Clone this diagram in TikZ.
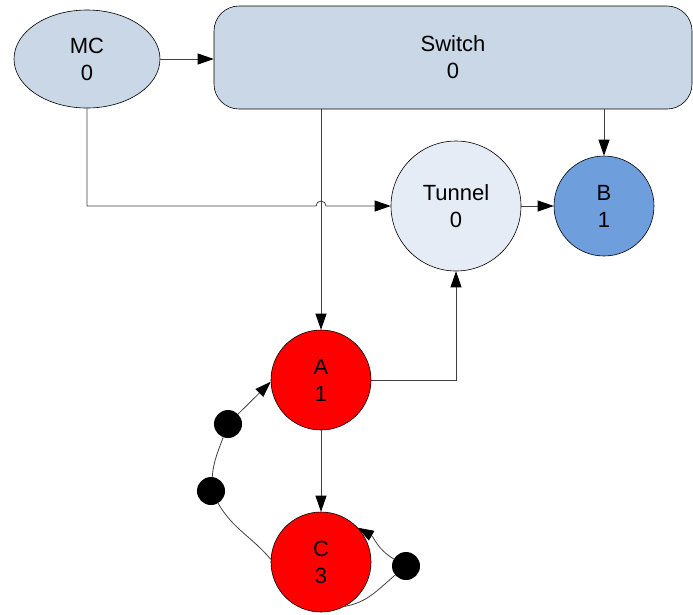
\documentclass[tikz,border=0pt]{standalone}
\usepackage{fontspec}
\setmainfont{Liberation Sans}
\usetikzlibrary{shapes.geometric,arrows.meta}

\definecolor{boxfill}{HTML}{C9D7E6}
\definecolor{tunnelfill}{HTML}{E6ECF6}
\definecolor{bfill}{HTML}{6E9EDB}

\begin{document}
\begin{tikzpicture}[x=1pt,y=1pt,
		every node/.style={font=\fontsize{22}{27}\selectfont, align=center, inner sep=0pt},
		state/.style={circle, draw=black, line width=0.6pt, minimum size=100pt},
		token/.style={circle, fill=black, minimum size=28pt},
		wire/.style={draw=black!75, line width=0.8pt},
		arr/.style={wire, -{Triangle[length=16pt,width=11pt,color=black]}}]
		\useasboundingbox (0,0) rectangle (693,-614);
		% places
		\node[ellipse, draw=black, line width=0.6pt, fill=boxfill, minimum width=146pt, minimum height=98pt] (mc) at (87,-59) {MC\\0};
		\node[draw=black, line width=0.6pt, fill=boxfill, rounded corners=25pt, minimum width=478pt, minimum height=103pt] (switch) at (453,-57.5) {Switch\\0};
		\node[state, fill=tunnelfill, minimum size=130pt] (tunnel) at (456,-206) {Tunnel\\0};
		\node[state, fill=bfill] (b) at (604,-206) {B\\1};
		\node[state, fill=red] (a) at (321,-380) {A\\1};
		\node[state, fill=red] (c) at (321,-562) {C\\3};
		\node[token] (t1) at (228,-424) {};
		\node[token] (t2) at (211,-491) {};
		\node[token] (t3) at (406,-566) {};
		\coordinate (hop) at (a.north |- tunnel.west);
		% arcs
		\draw[arr] (mc.east) -- (mc.east -| switch.west);
		\draw[arr] (switch.south -| a.north) -- (a.north);
		\draw[arr] (switch.south -| b.north) -- (b.north);
		\draw[arr] (mc.south) |- ([xshift=-5pt]hop) arc[start angle=180, end angle=0, radius=5pt] -- (tunnel.west);
		\draw[arr] (tunnel.east) -- (b.west);
		\draw[arr] (a.east) -| (tunnel.south);
		\draw[arr] (a.south) -- (c.north);
		% loops through the tokens
		\draw[wire] (c.177) to[out=130, in=-60] (t2);
		\draw[wire] (t2) to[out=85, in=-110] (t1);
		\draw[arr] (t1) -- (a.182);
		\draw[wire] (c.-62) to[out=10, in=-140] (t3);
		\draw[arr] (t3) to[out=150, in=-30] (c.43);
	\end{tikzpicture}
\end{document}
